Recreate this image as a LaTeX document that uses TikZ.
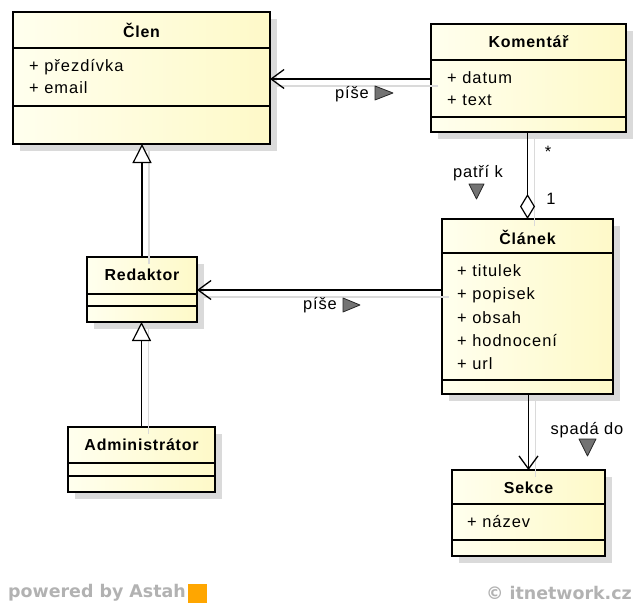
\documentclass[tikz,border=0pt]{standalone}
\usepackage{fontspec}
\setmainfont{Liberation Sans}
\newfontfamily\footfont{DejaVu Sans}
\usetikzlibrary{arrows.meta,shadows}
\definecolor{boxA}{RGB}{255,255,238}
\definecolor{boxB}{RGB}{254,249,200}
\definecolor{shadowc}{RGB}{218,218,218}
\definecolor{footc}{RGB}{178,178,178}
\tikzset{
  classbox/.style={draw=black, line width=2.6bp, anchor=north west, inner sep=0pt, outer sep=0pt,
    left color=boxA, right color=boxB,
    drop shadow={shadow xshift=7bp, shadow yshift=-7bp, fill=shadowc, opacity=1}},
  sepline/.style={line width=1.3bp},
  ctitle/.style={font=\fontsize{16}{18}\selectfont\bfseries\addfontfeature{LetterSpace=5}, inner sep=0pt},
  cattr/.style={font=\fontsize{16.5}{18}\selectfont\addfontfeature{LetterSpace=6}, anchor=west, inner sep=0pt},
  lbl/.style={font=\fontsize{16.5}{18}\selectfont\addfontfeature{LetterSpace=5}, inner sep=0pt},
  assoc/.style={line width=1.3bp, -{Straight Barb[length=13bp,width=19bp,line width=1.3bp]}},
  gen/.style={line width=1.3bp, -{Triangle[open,length=19bp,width=19bp,fill=white,line width=1.2bp]}},
  aggr/.style={line width=1.3bp, {Diamond[open,length=25bp,width=15bp,fill=white,line width=1.2bp]}-},
  cshadow/.style={draw=shadowc, line width=1.3bp, transform canvas={shift={(7bp,-7bp)}}},
  dirtri/.style={fill=black!55, draw=black!85, line width=0.8bp, line join=round},
  foot/.style={font=\footfont\fontsize{17.5}{19}\selectfont\bfseries, text=footc, inner sep=0pt},
}
\begin{document}
\begin{tikzpicture}[x=1bp,y=-1bp]
\useasboundingbox (0,0) rectangle (637,604);

% ---- classes
\node[classbox, minimum width=257bp, minimum height=132bp] (clen) at (13,12) {};
\node[classbox, minimum width=195bp, minimum height=108bp] (koment) at (431,24) {};
\node[classbox, minimum width=171bp, minimum height=175bp] (clanek) at (442,219) {};
\node[classbox, minimum width=153bp, minimum height=86bp] (sekce) at (452,470) {};
\node[classbox, minimum width=110bp, minimum height=65bp] (redak) at (87,257) {};
\node[classbox, minimum width=147bp, minimum height=65bp] (admin) at (68,427) {};

% separators
\foreach \n/\y in {clen/48, clen/106, koment/60, koment/117, clanek/253, clanek/380,
                   sekce/504, sekce/540, redak/294, redak/306, admin/463, admin/476}
  \draw[sepline] (\n.west |- 0,\y) -- (\n.east |- 0,\y);

% titles
\node[ctitle] (tclen) at (clen.north |- 0,30) {Člen};
\node[ctitle] (tkom) at (koment.north |- 0,42) {Komentář};
\node[ctitle] (tcla) at (clanek.north |- 0,237) {Článek};
\node[ctitle] (tsek) at (sekce.north |- 0,488) {Sekce};
\node[ctitle] (tred) at (redak.north |- 0,275) {Redaktor};
\node[ctitle] (tadm) at (admin.north |- 0,445) {Administrátor};

% attributes
\node[cattr] (a1) at (29,67) {+ přezdívka};
\node[cattr] (a2) at (29,88) {+ email};
\node[cattr] (a3) at (447,78) {+ datum};
\node[cattr] (a4) at (447,100) {+ text};
\node[cattr] (a5) at (457,271) {+ titulek};
\node[cattr] (a6) at (457,295) {+ popisek};
\node[cattr] (a7) at (457,318) {+ obsah};
\node[cattr] (a8) at (457,341) {+ hodnocení};
\node[cattr] (a9) at (457,364) {+ url};
\node[cattr] (a10) at (467,522) {+ název};

% ---- connector shadows
\draw[cshadow] (koment.west |- 0,79) -- (clen.east |- 0,79);
\draw[cshadow] (clanek.west |- 0,290) -- (redak.east |- 0,290);
\draw[cshadow] (clanek.north) -- (clanek.north |- koment.south);
\draw[cshadow] (clanek.south -| sekce.north) -- (sekce.north);
\draw[cshadow] (redak.north) -- (redak.north |- clen.south);
\draw[cshadow] (admin.north) -- (admin.north |- redak.south);

% ---- connectors
\draw[assoc] (koment.west |- 0,79) -- (clen.east |- 0,79);
\draw[assoc] (clanek.west |- 0,290) -- (redak.east |- 0,290);
\draw[aggr] (clanek.north) -- (clanek.north |- koment.south);
\draw[assoc] (clanek.south -| sekce.north) -- (sekce.north);
\draw[gen] (redak.north) -- (redak.north |- clen.south);
\draw[gen] (admin.north) -- (admin.north |- redak.south);

% ---- labels
\node[lbl] (l1) at (352,94) {píše};
\draw[dirtri] (375,86) -- (393,93) -- (375,100) -- cycle;
\node[lbl] (l2) at (320,305) {píše};
\draw[dirtri] (343,298) -- (360,305) -- (343,312) -- cycle;
\node[lbl] (l3) at (478,173) {patří k};
\draw[dirtri] (469,184) -- (484,184) -- (476.5,199) -- cycle;
\node[lbl] (m1) at (548,152) {*};
\node[lbl] (m2) at (551,199) {1};
\node[lbl] (l4) at (587,430) {spadá do};
\draw[dirtri] (579,439) -- (596,439) -- (587.5,456) -- cycle;

% ---- footer
\node[foot, anchor=west] (pw) at (8,593) {powered by Astah};
\fill[orange!70!yellow] (pw.east) ++(2,-9.5) rectangle ++(19,19);
\node[foot, anchor=east] (itn) at (632,593) {© itnetwork.cz};
\end{tikzpicture}
\end{document}
